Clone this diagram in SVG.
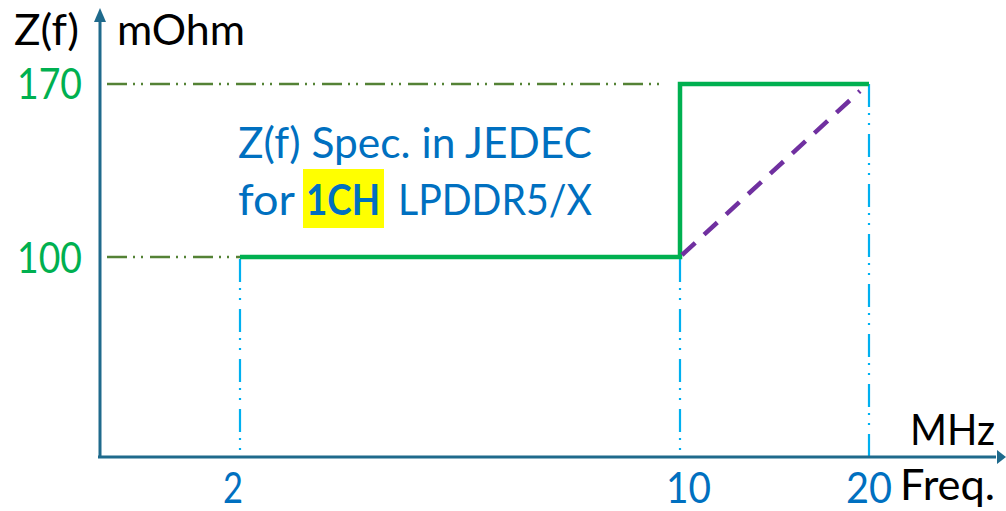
<svg xmlns="http://www.w3.org/2000/svg" width="1006" height="511" viewBox="0 0 1006 511">
<defs>
<style>
text{font-family:Lato,"Open Sans","Liberation Sans",sans-serif;font-size:42px}
.blk{fill:#000}
.grn{fill:#00B050}
.blu{fill:#0070C0}
.axis{stroke:#1F6A8C;stroke-width:3;fill:none}
.ref{stroke:#548235;stroke-width:2.5;fill:none;stroke-dasharray:20 6 2 6 2 7}
.vguide{stroke:#00B0F0;stroke-width:2.2;fill:none;stroke-dasharray:23 6 2 8 2 9}
.spec{stroke:#00B050;stroke-width:4.5;fill:none;stroke-linejoin:miter}
.alt{stroke:#7030A0;stroke-width:4.5;fill:none;stroke-dasharray:18 12}
</style>
</defs>
<rect width="1006" height="511" fill="#fff"/>
<g id="connectors">
<line class="ref" x1="107" y1="84" x2="660" y2="84"/>
<line class="ref" x1="107" y1="257" x2="240" y2="257"/>
<line class="vguide" x1="240" y1="259" x2="240" y2="456"/>
<line class="vguide" x1="680" y1="259" x2="680" y2="456"/>
<line class="vguide" x1="869" y1="84" x2="869" y2="456"/>
<polyline class="spec" points="240,257 680,257 680,84 869,84"/>
<line class="alt" x1="682" y1="255" x2="860" y2="91"/>
</g>
<g id="y-axis">
<line class="axis" x1="100" y1="458" x2="100" y2="20"/>
<polygon points="100,8 94,22 106,22" fill="#1F6A8C"/>
</g>
<g id="x-axis">
<line class="axis" x1="98" y1="457" x2="996" y2="457"/>
<polygon points="1006,457 997,450 997,464" fill="#1F6A8C"/>
</g>
<g id="labels">
<text class="blk" x="14" y="45" textLength="65" lengthAdjust="spacingAndGlyphs">Z(f)</text>
<text class="blk" x="117" y="45" textLength="128" lengthAdjust="spacingAndGlyphs">mOhm</text>
<text class="grn" x="17" y="99" textLength="65" lengthAdjust="spacingAndGlyphs">170</text>
<text class="grn" x="17" y="273" textLength="65" lengthAdjust="spacingAndGlyphs">100</text>
<text class="blu" x="223" y="503" textLength="20" lengthAdjust="spacingAndGlyphs">2</text>
<text class="blu" x="666" y="503" textLength="45" lengthAdjust="spacingAndGlyphs">10</text>
<text class="blu" x="846" y="503" textLength="46" lengthAdjust="spacingAndGlyphs">20</text>
<text class="blk" x="900" y="500" textLength="95" lengthAdjust="spacingAndGlyphs">Freq.</text>
<text class="blk" x="910" y="445" textLength="85" lengthAdjust="spacingAndGlyphs">MHz</text>
</g>
<g id="note">
<rect x="303" y="169" width="81" height="59" fill="#FFFF00"/>
<text class="blu" x="238" y="158" textLength="354" lengthAdjust="spacingAndGlyphs">Z(f) Spec. in JEDEC</text>
<text class="blu" x="238" y="215" textLength="57" lengthAdjust="spacingAndGlyphs">for</text>
<text class="blu" x="306" y="215" font-weight="bold" textLength="74" lengthAdjust="spacingAndGlyphs">1CH</text>
<text class="blu" x="398" y="215" textLength="194" lengthAdjust="spacingAndGlyphs">LPDDR5/X</text>
</g>
</svg>
